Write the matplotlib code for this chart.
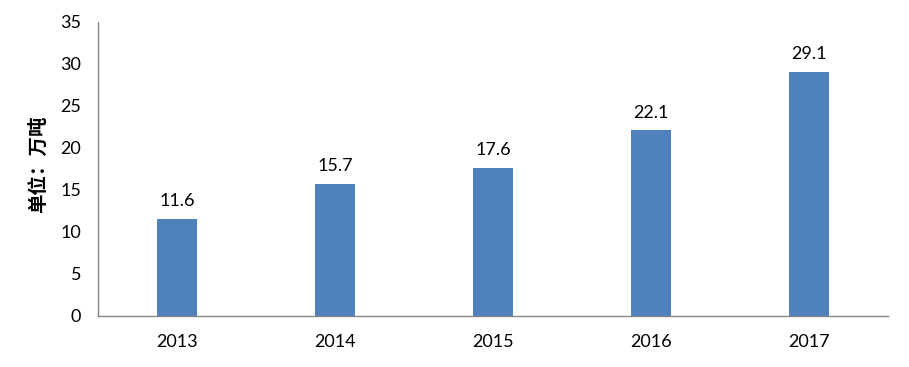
import matplotlib.pyplot as plt

years = ["2013", "2014", "2015", "2016", "2017"]
values = [11.6, 15.7, 17.6, 22.1, 29.1]
y_ticks = [0, 5, 10, 15, 20, 25, 30, 35]

fig = plt.figure(figsize=(9.09, 3.67), dpi=100)
ax = fig.add_axes([98 / 909, 51 / 367, 790 / 909, 294 / 367])

x = range(len(years))
bars = ax.bar(x, values, width=0.25, color="#4F81BD")

for xi, v in zip(x, values):
    ax.annotate(f"{v}", (xi, v), textcoords="offset points", xytext=(0, 7),
                ha="center", va="bottom", fontsize=13, family="Lato", color="black")

ax.set_xlim(-0.5, len(years) - 0.5)
ax.set_ylim(0, 35)
ax.set_yticks(y_ticks)
ax.set_xticks(list(x))
ax.set_xticklabels(years)
ax.tick_params(axis="both", length=0, labelsize=13)
ax.tick_params(axis="y", pad=12)
ax.tick_params(axis="x", pad=13)
for lab in ax.get_xticklabels() + ax.get_yticklabels():
    lab.set_family("Lato")

for side in ("top", "right"):
    ax.spines[side].set_visible(False)
for side in ("left", "bottom"):
    ax.spines[side].set_color("#868686")
    ax.spines[side].set_linewidth(1.0)

fig.text(38 / 909, (367 - 164) / 367, "单位：万吨", rotation=90, ha="center", va="center",
         fontsize=14, family=["Noto Sans CJK SC", "DejaVu Sans"], fontweight="bold")

fig.savefig("out.png", dpi=100)
